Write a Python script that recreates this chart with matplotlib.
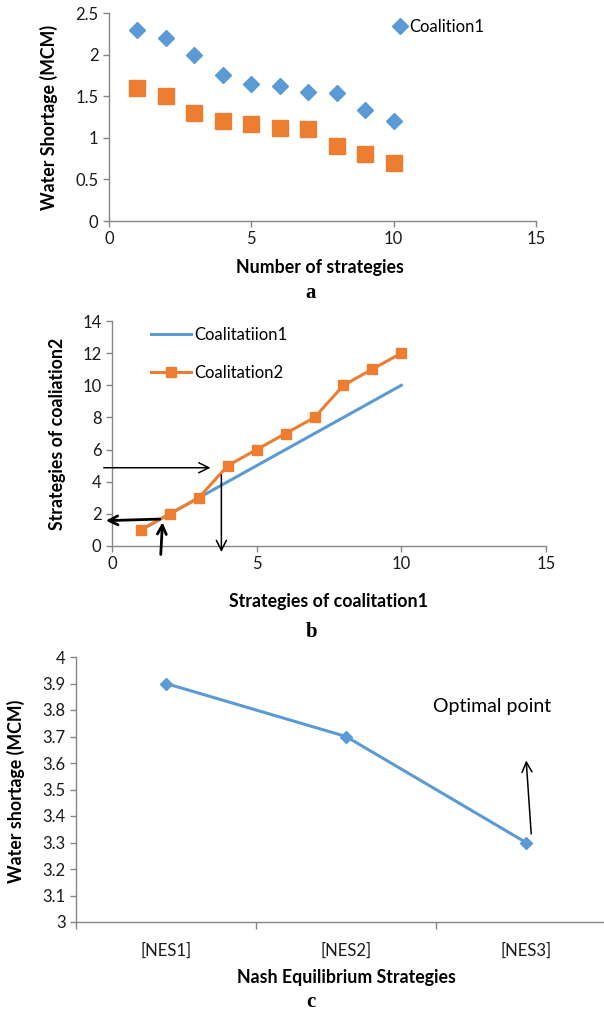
import numpy as np
import matplotlib
matplotlib.use("Agg")
import matplotlib.pyplot as plt
from matplotlib.ticker import FuncFormatter, FixedLocator

plt.rcParams['font.family'] = ['Lato', 'DejaVu Sans']

BLUE = '#5B9BD5'
ORANGE = '#ED7D31'
AXC = '#868686'

# (a) water shortage per strategy
strategies = [1, 2, 3, 4, 5, 6, 7, 8, 9, 10]
shortage_c1 = [2.3, 2.2, 2.0, 1.75, 1.65, 1.62, 1.55, 1.54, 1.34, 1.2]
shortage_c2 = [1.6, 1.5, 1.3, 1.2, 1.17, 1.12, 1.1, 0.9, 0.8, 0.7]

# (b) best-response strategies
coal1_x = [1, 2, 3, 4, 5, 6, 7, 8, 9, 10]
coal1_y = [1, 2, 3, 4, 5, 6, 7, 8, 9, 10]
coal2_y = [1, 2, 3, 5, 6, 7, 8, 10, 11, 12]

# (c) Nash equilibrium strategies
nes_labels = ['[NES1]', '[NES2]', '[NES3]']
nes_shortage = [3.9, 3.7, 3.3]

W, H = 604, 1019
fig = plt.figure(figsize=(W / 100, H / 100), dpi=100)

TICK_FS = 12
LABEL_FS = 12.8


def px_axes(x0, y0, x1, y1):
    return fig.add_axes([x0 / W, 1 - y1 / H, (x1 - x0) / W, (y1 - y0) / H])


def excel_style(ax):
    for s in ['top', 'right']:
        ax.spines[s].set_visible(False)
    for s in ['left', 'bottom']:
        ax.spines[s].set_color(AXC)
        ax.spines[s].set_linewidth(1.0)
    ax.tick_params(direction='out', length=4, width=1, color=AXC,
                   labelsize=TICK_FS, labelcolor='#1a1a1a')


def ftext(x, y, s, **kw):
    fig.text(x / W, 1 - y / H, s, ha='center', va='center', **kw)


num_fmt = FuncFormatter(lambda v, p: f"{v:g}")

# ---- panel a
ax1 = px_axes(109, 13, 536, 221)
excel_style(ax1)
h1, = ax1.plot(strategies, shortage_c1, 'D', color=BLUE, ms=8, mec=BLUE,
               label='Coalition1', clip_on=False)
ax1.plot(strategies, shortage_c2, 's', color=ORANGE, ms=11, mec=ORANGE,
         clip_on=False)
ax1.set_xlim(0, 15)
ax1.set_ylim(0, 2.5)
ax1.set_xticks([0, 5, 10, 15])
ax1.set_yticks([0, 0.5, 1, 1.5, 2, 2.5])
ax1.yaxis.set_major_formatter(num_fmt)
ax1.legend(handles=[h1], loc='upper left', bbox_to_anchor=(0.665, 0.97),
           frameon=False, fontsize=TICK_FS, handlelength=0.8,
           handletextpad=0.2, borderpad=0, borderaxespad=0)
ftext(49, 117, 'Water Shortage (MCM)', rotation=90, fontsize=LABEL_FS,
      fontweight='bold')
ftext(320, 268, 'Number of strategies', fontsize=LABEL_FS, fontweight='bold')
ftext(311, 293, 'a', fontsize=15, fontweight='bold', family='Liberation Serif')

# ---- panel b
ax2 = px_axes(112, 321, 546, 546)
excel_style(ax2)
ax2.plot(coal1_x, coal1_y, '-', color=BLUE, lw=2.2, label='Coalitatiion1')
ax2.plot(coal1_x, coal2_y, '-s', color=ORANGE, lw=2.2, ms=7.5,
         label='Coalitation2', clip_on=False)
ax2.set_xlim(0, 15)
ax2.set_ylim(0, 14)
ax2.set_xticks([0, 5, 10, 15])
ax2.set_yticks(range(0, 15, 2))
ax2.legend(loc='upper left', bbox_to_anchor=(0.09, 0.975), frameon=False,
           fontsize=TICK_FS, handlelength=2.4, handletextpad=0.2,
           labelspacing=1.35, borderpad=0, borderaxespad=0)

thin = dict(arrowstyle='->', color='black', lw=1.1, mutation_scale=18)
thick = dict(arrowstyle='->', color='black', lw=2.0, mutation_scale=16)
ax2.annotate('', xy=(3.5, 4.87), xytext=(-0.38, 4.87), arrowprops=thin,
             annotation_clip=False)
ax2.annotate('', xy=(3.78, -0.55), xytext=(3.78, 4.6), arrowprops=thin,
             annotation_clip=False)
ax2.annotate('', xy=(-0.31, 1.57), xytext=(1.75, 1.68), arrowprops=thick,
             annotation_clip=False)
ax2.annotate('', xy=(1.75, 1.65), xytext=(1.68, -0.7), arrowprops=thick,
             annotation_clip=False)

ftext(58, 434, 'Strategies of coaliation2', rotation=90, fontsize=LABEL_FS,
      fontweight='bold')
ftext(329, 602, 'Strategies of coalitation1', fontsize=LABEL_FS,
      fontweight='bold')
ftext(312, 632, 'b', fontsize=15, fontweight='bold', family='Liberation Serif')

# ---- panel c
ax3 = px_axes(76, 657, 616, 922)
excel_style(ax3)
xc = np.arange(len(nes_labels))
ax3.plot(xc, nes_shortage, '-D', color=BLUE, lw=2.2, ms=6.5, clip_on=False)
ax3.set_xlim(-0.5, 2.5)
ax3.set_ylim(3, 4)
ax3.set_yticks(np.round(np.arange(3, 4.01, 0.1), 1))
ax3.yaxis.set_major_formatter(num_fmt)
ax3.set_xticks(xc)
ax3.set_xticklabels(nes_labels)
ax3.tick_params(axis='x', which='major', length=0, pad=15)
ax3.xaxis.set_minor_locator(FixedLocator([-0.5, 0.5, 1.5, 2.5]))
ax3.tick_params(axis='x', which='minor', direction='out', length=5,
                width=1, color=AXC)
ax3.text(1.81, 3.815, 'Optimal point', ha='center', va='center',
         fontsize=14)
ax3.annotate('', xy=(2.0, 3.62), xytext=(2.03, 3.322), arrowprops=thin,
             annotation_clip=False)

ftext(16, 791, 'Water shortage (MCM)', rotation=90, fontsize=LABEL_FS,
      fontweight='bold')
ftext(346, 978, 'Nash Equilibrium Strategies', fontsize=LABEL_FS,
      fontweight='bold')
ftext(311, 1002, 'c', fontsize=15, fontweight='bold', family='Liberation Serif')

fig.savefig('out.png', dpi=100)
